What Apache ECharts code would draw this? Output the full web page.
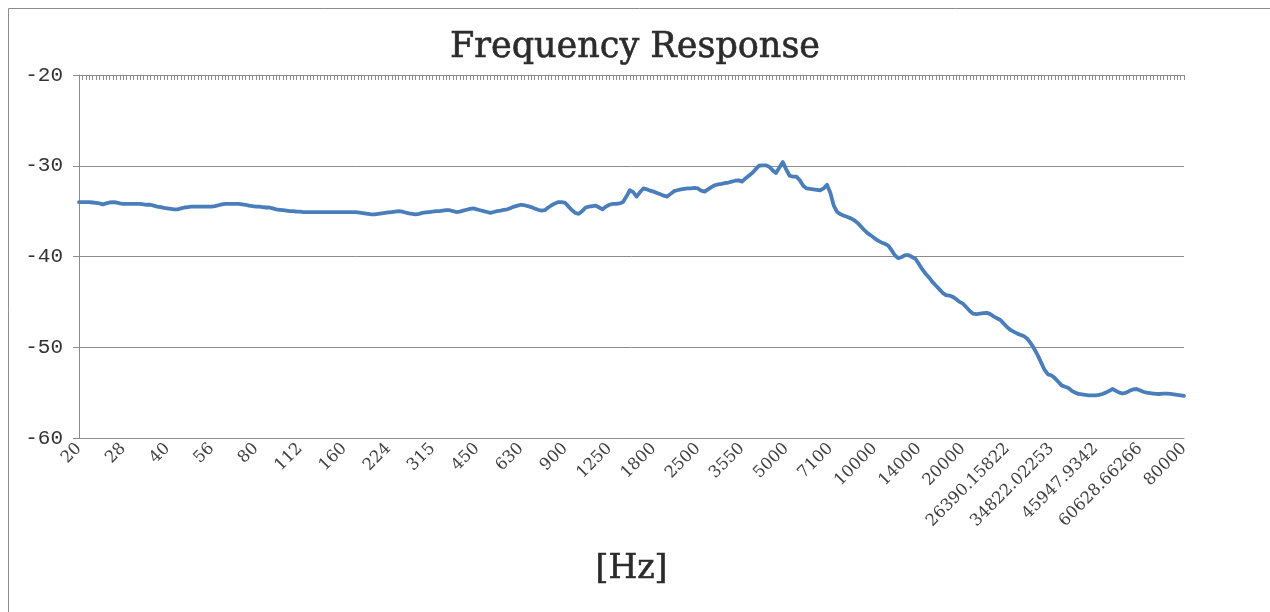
<!DOCTYPE html>
<html>
<head>
<meta charset="utf-8">
<script src="https://cdn.jsdelivr.net/npm/echarts@6/dist/echarts.min.js"></script>
<style>
html,body{margin:0;padding:0;background:#fff;}
#chart{width:1270px;height:612px;}
</style>
</head>
<body>
<div id="chart"></div>
<script>
// Tick labels shown on the frequency axis (one every 13 measurement points)
const tickLabels = ['20','28','40','56','80','112','160','224','315','450','630','900','1250','1800','2500','3550','5000','7100','10000','14000','20000','26390.15822','34822.02253','45947.9342','60628.66266','80000'];
const pointsPerLabel = 13;

// Response in dB, 13 points per labelled interval
const response = [
  -34.0,-34.0,-34.0,-34.0,-34.05,-34.1,-34.15,-34.25,-34.15,-34.05,-34.0,-34.05,-34.15,
  -34.2,-34.2,-34.2,-34.2,-34.2,-34.2,-34.25,-34.3,-34.3,-34.4,-34.5,-34.55,-34.65,
  -34.7,-34.75,-34.8,-34.8,-34.7,-34.6,-34.55,-34.5,-34.5,-34.5,-34.5,-34.5,-34.5,
  -34.5,-34.45,-34.35,-34.25,-34.2,-34.2,-34.2,-34.2,-34.2,-34.25,-34.3,-34.4,-34.45,
  -34.5,-34.5,-34.55,-34.6,-34.6,-34.7,-34.8,-34.85,-34.9,-34.95,-35.0,-35.0,-35.05,
  -35.05,-35.1,-35.1,-35.1,-35.1,-35.1,-35.1,-35.1,-35.1,-35.1,-35.1,-35.1,-35.1,
  -35.1,-35.1,-35.1,-35.1,-35.15,-35.2,-35.25,-35.3,-35.35,-35.35,-35.3,-35.25,-35.2,
  -35.15,-35.1,-35.05,-35.0,-35.05,-35.15,-35.25,-35.3,-35.35,-35.3,-35.2,-35.15,-35.1,
  -35.05,-35.0,-35.0,-34.95,-34.9,-34.9,-35.0,-35.1,-35.05,-34.95,-34.85,-34.75,-34.7,
  -34.8,-34.9,-35.0,-35.1,-35.2,-35.1,-35.0,-34.95,-34.85,-34.8,-34.65,-34.5,-34.4,
  -34.3,-34.35,-34.45,-34.55,-34.7,-34.85,-34.95,-34.9,-34.6,-34.35,-34.15,-34.0,-34.0,
  -34.1,-34.5,-34.9,-35.2,-35.3,-35.0,-34.6,-34.5,-34.45,-34.4,-34.6,-34.8,-34.5,
  -34.3,-34.2,-34.2,-34.15,-34.0,-33.4,-32.7,-32.9,-33.4,-32.9,-32.5,-32.6,-32.75,
  -32.85,-33.0,-33.15,-33.3,-33.4,-33.1,-32.8,-32.7,-32.6,-32.55,-32.5,-32.5,-32.45,
  -32.5,-32.75,-32.85,-32.6,-32.35,-32.15,-32.05,-32.0,-31.9,-31.85,-31.75,-31.65,-31.6,
  -31.75,-31.4,-31.1,-30.8,-30.4,-30.0,-29.95,-29.95,-30.1,-30.5,-30.8,-30.2,-29.6,
  -30.4,-31.1,-31.2,-31.2,-31.6,-32.2,-32.5,-32.55,-32.6,-32.65,-32.7,-32.5,-32.1,
  -33.0,-34.4,-35.1,-35.35,-35.5,-35.65,-35.8,-36.0,-36.3,-36.7,-37.1,-37.45,-37.7,
  -38.0,-38.25,-38.45,-38.6,-38.8,-39.3,-39.9,-40.2,-40.05,-39.85,-39.85,-40.05,-40.25,
  -40.8,-41.4,-41.9,-42.3,-42.8,-43.2,-43.6,-44.0,-44.25,-44.3,-44.45,-44.7,-45.0,
  -45.2,-45.6,-46.0,-46.3,-46.35,-46.3,-46.25,-46.2,-46.35,-46.6,-46.8,-47.0,-47.4,
  -47.8,-48.1,-48.3,-48.5,-48.65,-48.8,-49.1,-49.6,-50.2,-50.9,-51.7,-52.5,-53.0,
  -53.1,-53.4,-53.8,-54.2,-54.35,-54.5,-54.8,-55.0,-55.15,-55.2,-55.25,-55.3,-55.3,
  -55.3,-55.25,-55.15,-55.0,-54.8,-54.6,-54.8,-55.0,-55.1,-55.0,-54.8,-54.65,-54.6,
  -54.75,-54.9,-55.0,-55.05,-55.1,-55.15,-55.15,-55.1,-55.1,-55.15,-55.2,-55.25,-55.3,
  -55.35
];

const yMin = -60, yMax = -20, yStep = 10;

// category list: label at every 13th point, blank in between
const categories = response.map((v, i) => (i % pointsPerLabel === 0 ? tickLabels[i / pointsPerLabel] : ''));

const chart = echarts.init(document.getElementById('chart'), null, {renderer: 'canvas'});
chart.setOption({
  backgroundColor: '#ffffff',
  animation: false,
  title: {
    text: 'Frequency Response',
    left: 'center',
    top: 25,
    textStyle: {fontFamily: 'DejaVu Serif', fontSize: 35, fontWeight: 'normal', color: '#2b2b2b', textBorderColor: '#2b2b2b', textBorderWidth: 0.6}
  },
  graphic: [{
    type: 'polyline',
    shape: {points: [[8.5, 700], [8.5, 8.5], [1300, 8.5]]},
    style: {stroke: '#8c8c8c', lineWidth: 1, fill: null},
    silent: true
  }],
  grid: {left: 79, right: 86, top: 75, bottom: 174, containLabel: false},
  xAxis: [{
    type: 'category',
    data: categories,
    boundaryGap: false,
    position: 'bottom',
    axisLine: {show: true, lineStyle: {color: '#8c8c8c', width: 1}},
    axisTick: {show: false},
    axisLabel: {
      interval: pointsPerLabel - 1,
      rotate: 45,
      margin: 8,
      fontFamily: 'DejaVu Serif',
      fontSize: 16.5,
      color: '#404040'
    },
    name: '[Hz]',
    nameLocation: 'middle',
    nameGap: 115,
    nameTextStyle: {fontFamily: 'DejaVu Serif', fontSize: 33, color: '#2b2b2b', textBorderColor: '#2b2b2b', textBorderWidth: 0.6}
  }, {
    type: 'category',
    data: categories,
    boundaryGap: false,
    position: 'top',
    axisLine: {show: true, lineStyle: {color: '#8c8c8c', width: 1}},
    axisTick: {show: true, inside: true, length: 5, interval: 0, lineStyle: {color: '#8c8c8c'}},
    axisLabel: {show: false}
  }],
  yAxis: {
    type: 'value',
    min: yMin,
    max: yMax,
    interval: yStep,
    axisLine: {show: true, lineStyle: {color: '#8c8c8c', width: 1}},
    axisTick: {show: true, length: 6, lineStyle: {color: '#8c8c8c'}},
    axisLabel: {
      margin: 16,
      fontFamily: 'Liberation Mono',
      fontSize: 21,
      color: '#333333'
    },
    splitLine: {show: true, lineStyle: {color: '#8c8c8c', width: 1}}
  },
  series: [{
    type: 'line',
    xAxisIndex: 0,
    data: response,
    showSymbol: false,
    symbol: 'none',
    lineStyle: {color: '#4A7EBB', width: 3.8, join: 'round', cap: 'round'},
    z: 5
  }]
});
</script>
</body>
</html>
